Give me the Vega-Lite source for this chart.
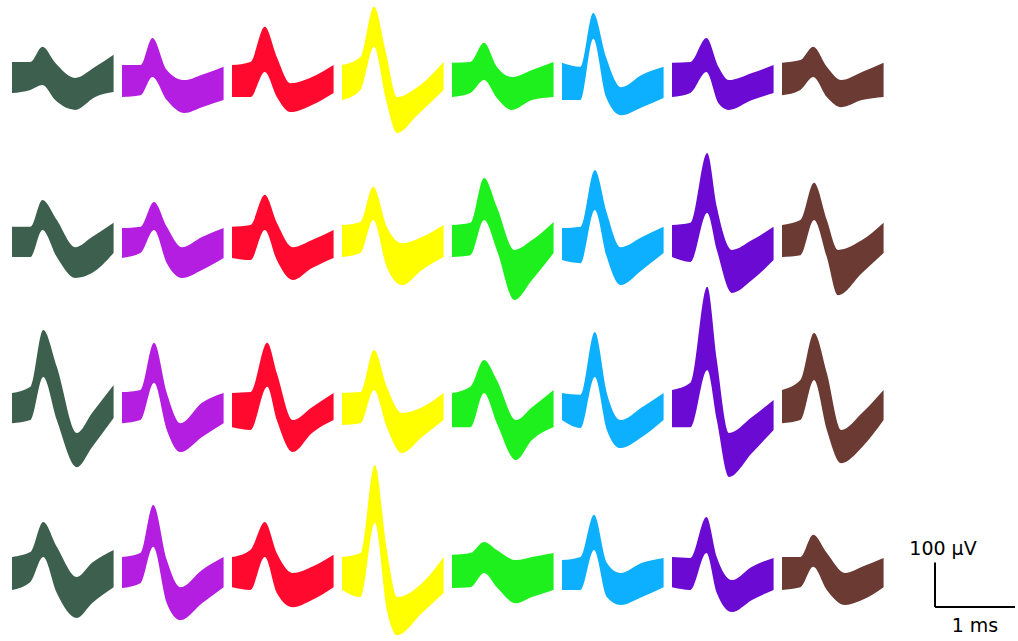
{
  "$schema": "https://vega.github.io/schema/vega-lite/v6.json",
  "padding": {"left": 12, "top": 5, "right": 0, "bottom": 0},
  "background": "white",
  "config": {"view": {"stroke": null}},
  "spacing": 16,
  "datasets": {
    "w": [
      {"r":1,"c":1,"t":0,"hi":34,"lo":-36},{"r":1,"c":1,"t":0.23,"hi":34,"lo":-29},{"r":1,"c":1,"t":0.38,"hi":68,"lo":-18},{"r":1,"c":1,"t":0.54,"hi":32,"lo":-52},{"r":1,"c":1,"t":0.79,"hi":-2,"lo":-74},{"r":1,"c":1,"t":1.04,"hi":23,"lo":-45},{"r":1,"c":1,"t":1.27,"hi":50,"lo":-34},
      {"r":1,"c":2,"t":0,"hi":27,"lo":-45},{"r":1,"c":2,"t":0.23,"hi":27,"lo":-41},{"r":1,"c":2,"t":0.38,"hi":88,"lo":0},{"r":1,"c":2,"t":0.56,"hi":16,"lo":-52},{"r":1,"c":2,"t":0.78,"hi":-7,"lo":-81},{"r":1,"c":2,"t":1.0,"hi":5,"lo":-68},{"r":1,"c":2,"t":1.27,"hi":23,"lo":-52},
      {"r":1,"c":3,"t":0,"hi":27,"lo":-45},{"r":1,"c":3,"t":0.23,"hi":34,"lo":-45},{"r":1,"c":3,"t":0.41,"hi":113,"lo":11},{"r":1,"c":3,"t":0.56,"hi":45,"lo":-45},{"r":1,"c":3,"t":0.73,"hi":-14,"lo":-79},{"r":1,"c":3,"t":1.0,"hi":0,"lo":-63},{"r":1,"c":3,"t":1.27,"hi":27,"lo":-36},
      {"r":1,"c":4,"t":0,"hi":27,"lo":-52},{"r":1,"c":4,"t":0.23,"hi":45,"lo":-29},{"r":1,"c":4,"t":0.4,"hi":158,"lo":68},{"r":1,"c":4,"t":0.55,"hi":54,"lo":-52},{"r":1,"c":4,"t":0.69,"hi":-45,"lo":-126},{"r":1,"c":4,"t":0.94,"hi":-23,"lo":-86},{"r":1,"c":4,"t":1.27,"hi":34,"lo":-29},
      {"r":1,"c":5,"t":0,"hi":32,"lo":-45},{"r":1,"c":5,"t":0.23,"hi":34,"lo":-36},{"r":1,"c":5,"t":0.4,"hi":77,"lo":-7},{"r":1,"c":5,"t":0.56,"hi":23,"lo":-47},{"r":1,"c":5,"t":0.75,"hi":0,"lo":-74},{"r":1,"c":5,"t":1.0,"hi":16,"lo":-52},{"r":1,"c":5,"t":1.27,"hi":34,"lo":-45},
      {"r":1,"c":6,"t":0,"hi":32,"lo":-52},{"r":1,"c":6,"t":0.23,"hi":23,"lo":-52},{"r":1,"c":6,"t":0.39,"hi":144,"lo":86},{"r":1,"c":6,"t":0.55,"hi":45,"lo":-45},{"r":1,"c":6,"t":0.74,"hi":-23,"lo":-86},{"r":1,"c":6,"t":1.0,"hi":5,"lo":-68},{"r":1,"c":6,"t":1.27,"hi":23,"lo":-47},
      {"r":1,"c":7,"t":0,"hi":32,"lo":-45},{"r":1,"c":7,"t":0.23,"hi":34,"lo":-36},{"r":1,"c":7,"t":0.43,"hi":88,"lo":11},{"r":1,"c":7,"t":0.58,"hi":23,"lo":-59},{"r":1,"c":7,"t":0.71,"hi":-7,"lo":-74},{"r":1,"c":7,"t":1.0,"hi":9,"lo":-52},{"r":1,"c":7,"t":1.27,"hi":27,"lo":-36},
      {"r":1,"c":8,"t":0,"hi":32,"lo":-41},{"r":1,"c":8,"t":0.23,"hi":38,"lo":-29},{"r":1,"c":8,"t":0.39,"hi":68,"lo":0},{"r":1,"c":8,"t":0.56,"hi":23,"lo":-45},{"r":1,"c":8,"t":0.74,"hi":-7,"lo":-68},{"r":1,"c":8,"t":1.0,"hi":11,"lo":-52},{"r":1,"c":8,"t":1.27,"hi":32,"lo":-45},

      {"r":2,"c":1,"t":0,"hi":32,"lo":-36},{"r":2,"c":1,"t":0.23,"hi":32,"lo":-36},{"r":2,"c":1,"t":0.38,"hi":92,"lo":25},{"r":2,"c":1,"t":0.56,"hi":47,"lo":-36},{"r":2,"c":1,"t":0.79,"hi":-14,"lo":-83},{"r":2,"c":1,"t":1.0,"hi":9,"lo":-72},{"r":2,"c":1,"t":1.27,"hi":41,"lo":-27},
      {"r":2,"c":2,"t":0,"hi":29,"lo":-38},{"r":2,"c":2,"t":0.23,"hi":32,"lo":-27},{"r":2,"c":2,"t":0.4,"hi":88,"lo":25},{"r":2,"c":2,"t":0.56,"hi":32,"lo":-50},{"r":2,"c":2,"t":0.75,"hi":-14,"lo":-83},{"r":2,"c":2,"t":1.0,"hi":9,"lo":-65},{"r":2,"c":2,"t":1.27,"hi":29,"lo":-38},
      {"r":2,"c":3,"t":0,"hi":32,"lo":-38},{"r":2,"c":3,"t":0.23,"hi":36,"lo":-43},{"r":2,"c":3,"t":0.41,"hi":104,"lo":25},{"r":2,"c":3,"t":0.56,"hi":41,"lo":-43},{"r":2,"c":3,"t":0.76,"hi":-14,"lo":-88},{"r":2,"c":3,"t":1.0,"hi":2,"lo":-61},{"r":2,"c":3,"t":1.27,"hi":25,"lo":-38},
      {"r":2,"c":4,"t":0,"hi":36,"lo":-36},{"r":2,"c":4,"t":0.23,"hi":43,"lo":-27},{"r":2,"c":4,"t":0.39,"hi":122,"lo":47},{"r":2,"c":4,"t":0.56,"hi":32,"lo":-59},{"r":2,"c":4,"t":0.75,"hi":-5,"lo":-99},{"r":2,"c":4,"t":1.0,"hi":9,"lo":-65},{"r":2,"c":4,"t":1.27,"hi":36,"lo":-36},
      {"r":2,"c":5,"t":0,"hi":36,"lo":-36},{"r":2,"c":5,"t":0.23,"hi":41,"lo":-32},{"r":2,"c":5,"t":0.4,"hi":142,"lo":47},{"r":2,"c":5,"t":0.56,"hi":77,"lo":-20},{"r":2,"c":5,"t":0.78,"hi":-20,"lo":-133},{"r":2,"c":5,"t":1.0,"hi":2,"lo":-88},{"r":2,"c":5,"t":1.27,"hi":43,"lo":-27},
      {"r":2,"c":6,"t":0,"hi":29,"lo":-43},{"r":2,"c":6,"t":0.23,"hi":32,"lo":-50},{"r":2,"c":6,"t":0.41,"hi":160,"lo":70},{"r":2,"c":6,"t":0.56,"hi":63,"lo":-36},{"r":2,"c":6,"t":0.73,"hi":-14,"lo":-99},{"r":2,"c":6,"t":1.0,"hi":9,"lo":-65},{"r":2,"c":6,"t":1.27,"hi":32,"lo":-27},
      {"r":2,"c":7,"t":0,"hi":36,"lo":-36},{"r":2,"c":7,"t":0.23,"hi":41,"lo":-47},{"r":2,"c":7,"t":0.44,"hi":198,"lo":63},{"r":2,"c":7,"t":0.56,"hi":77,"lo":-20},{"r":2,"c":7,"t":0.75,"hi":-20,"lo":-117},{"r":2,"c":7,"t":1.0,"hi":2,"lo":-88},{"r":2,"c":7,"t":1.27,"hi":32,"lo":-43},
      {"r":2,"c":8,"t":0,"hi":36,"lo":-36},{"r":2,"c":8,"t":0.23,"hi":47,"lo":-32},{"r":2,"c":8,"t":0.4,"hi":131,"lo":47},{"r":2,"c":8,"t":0.56,"hi":47,"lo":-36},{"r":2,"c":8,"t":0.7,"hi":-20,"lo":-122},{"r":2,"c":8,"t":1.0,"hi":2,"lo":-72},{"r":2,"c":8,"t":1.27,"hi":41,"lo":-27},

      {"r":3,"c":1,"t":0,"hi":27,"lo":-41},{"r":3,"c":1,"t":0.23,"hi":41,"lo":-34},{"r":3,"c":1,"t":0.39,"hi":169,"lo":63},{"r":3,"c":1,"t":0.56,"hi":86,"lo":-34},{"r":3,"c":1,"t":0.81,"hi":-63,"lo":-140},{"r":3,"c":1,"t":1.0,"hi":-18,"lo":-95},{"r":3,"c":1,"t":1.27,"hi":45,"lo":-29},
      {"r":3,"c":2,"t":0,"hi":29,"lo":-41},{"r":3,"c":2,"t":0.23,"hi":34,"lo":-34},{"r":3,"c":2,"t":0.4,"hi":140,"lo":50},{"r":3,"c":2,"t":0.56,"hi":27,"lo":-56},{"r":3,"c":2,"t":0.73,"hi":-41,"lo":-106},{"r":3,"c":2,"t":1.0,"hi":5,"lo":-72},{"r":3,"c":2,"t":1.27,"hi":27,"lo":-41},
      {"r":3,"c":3,"t":0,"hi":27,"lo":-50},{"r":3,"c":3,"t":0.23,"hi":29,"lo":-56},{"r":3,"c":3,"t":0.44,"hi":140,"lo":41},{"r":3,"c":3,"t":0.56,"hi":72,"lo":-34},{"r":3,"c":3,"t":0.76,"hi":-34,"lo":-106},{"r":3,"c":3,"t":1.0,"hi":-5,"lo":-63},{"r":3,"c":3,"t":1.27,"hi":27,"lo":-34},
      {"r":3,"c":4,"t":0,"hi":27,"lo":-45},{"r":3,"c":4,"t":0.23,"hi":29,"lo":-41},{"r":3,"c":4,"t":0.4,"hi":124,"lo":34},{"r":3,"c":4,"t":0.56,"hi":41,"lo":-50},{"r":3,"c":4,"t":0.75,"hi":-18,"lo":-108},{"r":3,"c":4,"t":1.0,"hi":-5,"lo":-72},{"r":3,"c":4,"t":1.27,"hi":27,"lo":-34},
      {"r":3,"c":5,"t":0,"hi":27,"lo":-50},{"r":3,"c":5,"t":0.23,"hi":41,"lo":-50},{"r":3,"c":5,"t":0.4,"hi":101,"lo":27},{"r":3,"c":5,"t":0.56,"hi":56,"lo":-41},{"r":3,"c":5,"t":0.8,"hi":-34,"lo":-124},{"r":3,"c":5,"t":1.0,"hi":-5,"lo":-79},{"r":3,"c":5,"t":1.27,"hi":34,"lo":-50},
      {"r":3,"c":6,"t":0,"hi":27,"lo":-34},{"r":3,"c":6,"t":0.23,"hi":23,"lo":-52},{"r":3,"c":6,"t":0.41,"hi":164,"lo":63},{"r":3,"c":6,"t":0.56,"hi":27,"lo":-56},{"r":3,"c":6,"t":0.73,"hi":-34,"lo":-97},{"r":3,"c":6,"t":1.0,"hi":-5,"lo":-72},{"r":3,"c":6,"t":1.27,"hi":27,"lo":-34},
      {"r":3,"c":7,"t":0,"hi":34,"lo":-50},{"r":3,"c":7,"t":0.23,"hi":50,"lo":-50},{"r":3,"c":7,"t":0.44,"hi":266,"lo":79},{"r":3,"c":7,"t":0.56,"hi":101,"lo":-34},{"r":3,"c":7,"t":0.71,"hi":-63,"lo":-162},{"r":3,"c":7,"t":1.0,"hi":-27,"lo":-108},{"r":3,"c":7,"t":1.27,"hi":11,"lo":-56},
      {"r":3,"c":8,"t":0,"hi":34,"lo":-41},{"r":3,"c":8,"t":0.23,"hi":56,"lo":-34},{"r":3,"c":8,"t":0.4,"hi":162,"lo":56},{"r":3,"c":8,"t":0.56,"hi":72,"lo":-56},{"r":3,"c":8,"t":0.74,"hi":-56,"lo":-131},{"r":3,"c":8,"t":1.0,"hi":-18,"lo":-95},{"r":3,"c":8,"t":1.27,"hi":34,"lo":-34},

      {"r":4,"c":1,"t":0,"hi":27,"lo":-47},{"r":4,"c":1,"t":0.23,"hi":38,"lo":-29},{"r":4,"c":1,"t":0.39,"hi":106,"lo":27},{"r":4,"c":1,"t":0.56,"hi":50,"lo":-54},{"r":4,"c":1,"t":0.81,"hi":-18,"lo":-110},{"r":4,"c":1,"t":1.0,"hi":14,"lo":-77},{"r":4,"c":1,"t":1.27,"hi":43,"lo":-41},
      {"r":4,"c":2,"t":0,"hi":27,"lo":-43},{"r":4,"c":2,"t":0.23,"hi":36,"lo":-32},{"r":4,"c":2,"t":0.39,"hi":144,"lo":50},{"r":4,"c":2,"t":0.56,"hi":20,"lo":-77},{"r":4,"c":2,"t":0.73,"hi":-41,"lo":-115},{"r":4,"c":2,"t":1.0,"hi":-2,"lo":-77},{"r":4,"c":2,"t":1.27,"hi":27,"lo":-41},
      {"r":4,"c":3,"t":0,"hi":27,"lo":-41},{"r":4,"c":3,"t":0.23,"hi":43,"lo":-47},{"r":4,"c":3,"t":0.41,"hi":106,"lo":27},{"r":4,"c":3,"t":0.56,"hi":36,"lo":-54},{"r":4,"c":3,"t":0.76,"hi":-9,"lo":-86},{"r":4,"c":3,"t":1.0,"hi":5,"lo":-70},{"r":4,"c":3,"t":1.27,"hi":32,"lo":-41},
      {"r":4,"c":4,"t":0,"hi":27,"lo":-47},{"r":4,"c":4,"t":0.23,"hi":36,"lo":-63},{"r":4,"c":4,"t":0.41,"hi":234,"lo":104},{"r":4,"c":4,"t":0.56,"hi":43,"lo":-92},{"r":4,"c":4,"t":0.69,"hi":-63,"lo":-149},{"r":4,"c":4,"t":1.0,"hi":-32,"lo":-99},{"r":4,"c":4,"t":1.27,"hi":27,"lo":-54},
      {"r":4,"c":5,"t":0,"hi":32,"lo":-43},{"r":4,"c":5,"t":0.23,"hi":36,"lo":-41},{"r":4,"c":5,"t":0.4,"hi":61,"lo":-9},{"r":4,"c":5,"t":0.56,"hi":43,"lo":-41},{"r":4,"c":5,"t":0.8,"hi":20,"lo":-77},{"r":4,"c":5,"t":1.0,"hi":27,"lo":-63},{"r":4,"c":5,"t":1.27,"hi":36,"lo":-47},
      {"r":4,"c":6,"t":0,"hi":20,"lo":-47},{"r":4,"c":6,"t":0.23,"hi":27,"lo":-47},{"r":4,"c":6,"t":0.4,"hi":122,"lo":43},{"r":4,"c":6,"t":0.56,"hi":14,"lo":-63},{"r":4,"c":6,"t":0.73,"hi":-9,"lo":-81},{"r":4,"c":6,"t":1.0,"hi":14,"lo":-63},{"r":4,"c":6,"t":1.27,"hi":25,"lo":-41},
      {"r":4,"c":7,"t":0,"hi":27,"lo":-41},{"r":4,"c":7,"t":0.23,"hi":25,"lo":-47},{"r":4,"c":7,"t":0.43,"hi":117,"lo":36},{"r":4,"c":7,"t":0.56,"hi":27,"lo":-54},{"r":4,"c":7,"t":0.75,"hi":-25,"lo":-97},{"r":4,"c":7,"t":1.0,"hi":5,"lo":-70},{"r":4,"c":7,"t":1.27,"hi":25,"lo":-47},
      {"r":4,"c":8,"t":0,"hi":27,"lo":-47},{"r":4,"c":8,"t":0.23,"hi":27,"lo":-41},{"r":4,"c":8,"t":0.39,"hi":77,"lo":5},{"r":4,"c":8,"t":0.56,"hi":36,"lo":-47},{"r":4,"c":8,"t":0.79,"hi":-9,"lo":-81},{"r":4,"c":8,"t":1.0,"hi":5,"lo":-70},{"r":4,"c":8,"t":1.27,"hi":25,"lo":-41}
    ]
  },
  "hconcat": [
    {
      "data": {"name": "w"},
      "bounds": "flush",
      "spacing": {"row": 20, "column": 8},
      "facet": {
        "row": {"field": "r", "type": "ordinal", "title": null, "header": {"labels": false, "title": null, "labelPadding": 0, "titlePadding": 0}},
        "column": {"field": "c", "type": "ordinal", "title": null, "header": {"labels": false, "title": null, "labelPadding": 0, "titlePadding": 0}}
      },
      "spec": {
        "width": 102,
        "height": 144,
        "mark": {"type": "area", "interpolate": "monotone"},
        "encoding": {
          "x": {"field": "t", "type": "quantitative", "scale": {"domain": [0, 1.275], "nice": false, "zero": false}, "axis": null},
          "y": {"field": "hi", "type": "quantitative", "scale": {"domain": [-162, 162], "nice": false, "zero": false}, "axis": null},
          "y2": {"field": "lo"},
          "color": {
            "field": "c", "type": "nominal", "legend": null,
            "scale": {"domain": [1, 2, 3, 4, 5, 6, 7, 8], "range": ["#3d5f4e", "#b31ee0", "#ff0a2e", "#ffff00", "#1ef01e", "#0cb0ff", "#6a0ad2", "#6b3a33"]}
          }
        }
      }
    },
    {
      "width": 118,
      "height": 636,
      "layer": [
        {
          "data": {"values": [{"bar": "100 µV", "x": 0, "x2": 0, "y": 0, "y2": 100}, {"bar": "1 ms", "x": 0, "x2": 1, "y": 0, "y2": 0}]},
          "mark": {"type": "rule", "strokeWidth": 2, "color": "black"},
          "encoding": {
            "x": {"field": "x", "type": "quantitative", "scale": {"domain": [-0.4375, 1.0375], "nice": false, "zero": false}, "axis": null},
            "x2": {"field": "x2"},
            "y": {"field": "y", "type": "quantitative", "scale": {"domain": [-76.5, 1354.5], "nice": false, "zero": false}, "axis": null},
            "y2": {"field": "y2"}
          }
        },
        {
          "data": {"values": [{"label": "100 µV", "x": 0.1, "y": 117}, {"label": "1 ms", "x": 0.5, "y": -56}]},
          "mark": {"type": "text", "font": "DejaVu Sans", "fontSize": 19, "align": "center", "baseline": "alphabetic", "color": "black"},
          "encoding": {
            "x": {"field": "x", "type": "quantitative", "axis": null},
            "y": {"field": "y", "type": "quantitative", "axis": null},
            "text": {"field": "label"}
          }
        }
      ]
    }
  ]
}
